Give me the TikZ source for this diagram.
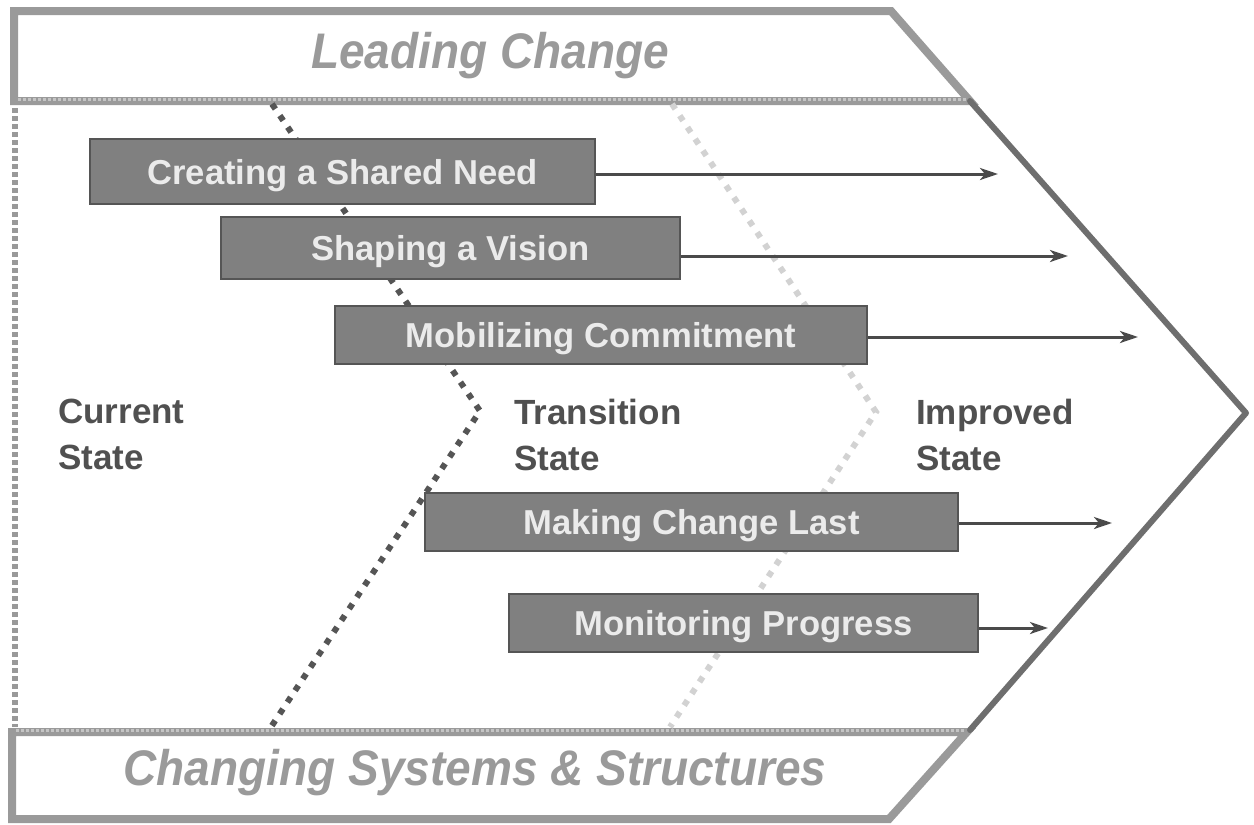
\documentclass[tikz,border=0pt]{standalone}
\usepackage{fontspec}
\setmainfont{Liberation Sans}
\newfontfamily\hdrfont[FakeStretch=0.92]{Liberation Sans}
\usetikzlibrary{arrows.meta}
\definecolor{boxfill}{HTML}{808080}
\definecolor{boxedge}{HTML}{555555}
\definecolor{boxtext}{HTML}{EBEBEB}
\definecolor{hdrgray}{HTML}{9A9A9A}
\definecolor{hdrtick}{HTML}{C4C4C4}
\definecolor{chevgray}{HTML}{6E6E6E}
\definecolor{labelgray}{HTML}{505050}
\definecolor{darkdot}{HTML}{555555}
\definecolor{lightdot}{HTML}{D2D2D2}
\definecolor{leftdot}{HTML}{999999}
\definecolor{arrowgray}{HTML}{4A4A4A}
\tikzset{
  stagebox/.style={draw=boxedge, fill=boxfill, line width=2pt, inner sep=0pt,
    text=boxtext, font=\bfseries\fontsize{34.6}{40}\selectfont,
    text height=25pt, text depth=0pt},
  hdrframe/.style={draw=hdrgray, line width=8pt, line join=miter, fill=white},
  hdrticks/.style={draw=hdrtick, line width=3pt, dash pattern=on 2.5pt off 2.5pt},
  hdrtext/.style={text=hdrgray, inner sep=0pt, anchor=base,
    font=\hdrfont\bfseries\itshape\fontsize{50}{56}\selectfont},
  chevline/.style={draw=chevgray, line width=6pt, line join=round, line cap=round},
  darkdots/.style={draw=darkdot, line width=6pt, dash pattern=on 6pt off 8pt},
  lightdots/.style={draw=lightdot, line width=6pt, dash pattern=on 6pt off 8pt},
  leftdots/.style={draw=leftdot, line width=6pt, dash pattern=on 5pt off 3pt},
  statelabel/.style={text=labelgray, inner sep=0pt, anchor=north west, align=left,
    font=\bfseries\fontsize{35}{45.5}\selectfont},
  outarrow/.style={draw=arrowgray, line width=3pt, -{Stealth[length=18pt,width=12pt,inset=5pt]}}
}
\begin{document}
\begin{tikzpicture}[x=1pt,y=-1pt]
\useasboundingbox (0,0) rectangle (1254,825);
\fill[white] (0,0) rectangle (1254,825);

% headers
\draw[hdrframe] (14,11) -- (891,11) -- (970,101) -- (14,101) -- cycle;
\draw[hdrticks] (18,99) -- (966,99);
\draw[hdrframe] (12,732) -- (967,732) -- (889,819) -- (12,819) -- cycle;
\draw[hdrticks] (16,730) -- (964,730);
\node[hdrtext] (lead) at (490,68) {Leading Change};
\node[hdrtext] (systems) at (475,785) {Changing Systems \& Structures};

% chevron body
\draw[chevline] (970,101) -- (1246,413) -- (970,730);

% dotted boundaries
\draw[leftdots] (15,108) -- (15,727);
\draw[darkdots] (272,104) -- (480,411) -- (271,727);
\draw[lightdots] (672,104) -- (876,412) -- (670,727);

% state labels
\node[statelabel] (cur) at (58,399) {Current\\State};
\node[statelabel] (tra) at (514,399) {Transition\\State};
\node[statelabel] (imp) at (916,399) {Improved\\State};

% stage boxes
\node[stagebox, minimum width=505pt, minimum height=65pt] (b1) at (342.5,171.5) {Creating a Shared Need};
\node[stagebox, minimum width=459pt, minimum height=62pt] (b2) at (450.5,248) {Shaping a Vision};
\node[stagebox, minimum width=532pt, minimum height=58pt] (b3) at (601,335) {Mobilizing Commitment};
\node[stagebox, minimum width=533pt, minimum height=58pt] (b4) at (691.5,522) {Making Change Last};
\node[stagebox, minimum width=469pt, minimum height=58pt] (b5) at (743.5,623) {Monitoring Progress};

% arrow ends
\coordinate (t1) at (998,174);
\coordinate (t2) at (1068,256);
\coordinate (t3) at (1138,337);
\coordinate (t4) at (1112,523);
\coordinate (t5) at (1048,628);

\draw[outarrow] (b1.east |- t1) -- (t1);
\draw[outarrow] (b2.east |- t2) -- (t2);
\draw[outarrow] (b3.east |- t3) -- (t3);
\draw[outarrow] (b4.east |- t4) -- (t4);
\draw[outarrow] (b5.east |- t5) -- (t5);
\end{tikzpicture}
\end{document}
